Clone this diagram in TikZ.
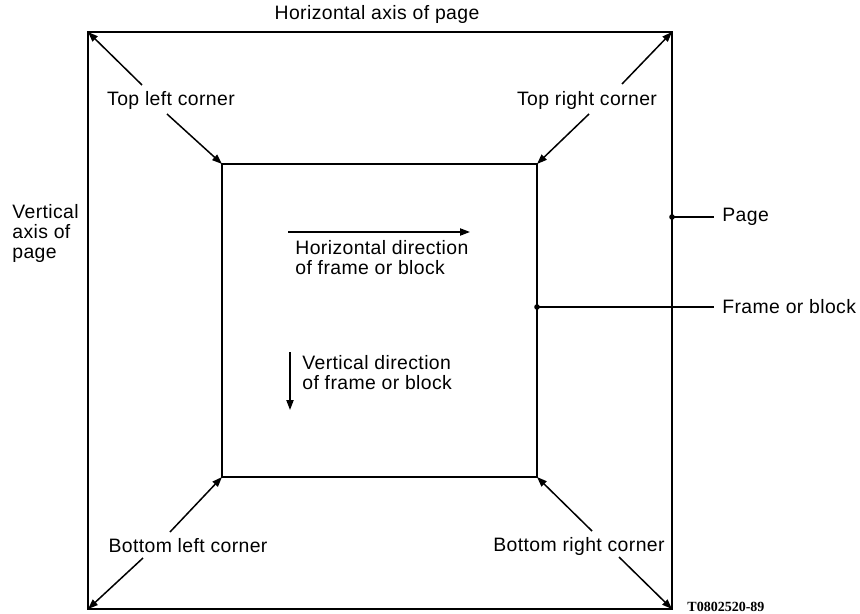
\documentclass[tikz,border=0pt]{standalone}
\usepackage{fontspec}
\setmainfont{Liberation Sans}[LetterSpace=2]
\newfontfamily\codefont{Liberation Serif}
\usetikzlibrary{arrows,arrows.meta,calc,positioning}

\begin{document}
\begin{tikzpicture}[
    x=0.5pt, y=-0.5pt,
    nosep/.style={inner sep=0},
    lbl/.style={nosep, font=\fontsize{9.7}{10}\selectfont},
    sidelbl/.style={lbl, anchor=west, inner xsep=4pt},
    multilbl/.style={lbl, align=left, anchor=west},
    frameline/.style={line width=0.8pt},
    pointer/.style={line width=0.75pt, -{Triangle[length=5pt, width=3.6pt]}},
    pin/.style={circle, fill=black, inner sep=0, minimum size=2.8pt},
    pinline/.style={line width=0.75pt}]

\useasboundingbox (0,0) rectangle (860,614);

\coordinate (page-nw) at (88,32);
\coordinate (page-ne) at (672,32);
\coordinate (page-sw) at (88,609);
\coordinate (page-se) at (672,609);
\coordinate (frame-nw) at (222,164);
\coordinate (frame-ne) at (537,164);
\coordinate (frame-sw) at (222,477);
\coordinate (frame-se) at (537,477);

\path[draw, frameline] (page-nw) rectangle (page-se);
\path[draw, frameline] (frame-nw) rectangle (frame-se);

\node[lbl] (haxis) at (377,14) {Horizontal axis of page};
\node[multilbl] (vaxis) at (12,233) {Vertical\\axis of\\page};

\node[lbl] (tl) at (171,100) {Top left corner};
\node[lbl] (tr) at (587,100) {Top right corner};
\node[lbl] (bl) at (188,546) {Bottom left corner};
\node[lbl] (br) at (579,546) {Bottom right corner};

\coordinate (tl-out) at (142,85);
\coordinate (tl-in) at (167,114);
\coordinate (tr-out) at (622,84);
\coordinate (tr-in) at (589,114);
\coordinate (bl-in) at (170,532);
\coordinate (bl-out) at (143,558);
\coordinate (br-in) at (592,531);
\coordinate (br-out) at (619,557);

\path[draw, pointer] (tl-out) -- (page-nw);
\path[draw, pointer] (tl-in) -- (frame-nw);
\path[draw, pointer] (tr-out) -- (page-ne);
\path[draw, pointer] (tr-in) -- (frame-ne);
\path[draw, pointer] (bl-in) -- (frame-sw);
\path[draw, pointer] (bl-out) -- (page-sw);
\path[draw, pointer] (br-in) -- (frame-se);
\path[draw, pointer] (br-out) -- (page-se);

\node[pin] (pagepin) at (672,217) {};
\node[pin] (framepin) at (537,307) {};
\node[sidelbl] (pagelbl) at (714,217) {Page};
\node[sidelbl] (framelbl) at (714,307) {Frame or block};
\path[draw, pinline] (pagepin.center) -- (pagelbl.west);
\path[draw, pinline] (framepin.center) -- (framelbl.west);

\coordinate (hdir-a) at (288,232);
\coordinate (hdir-b) at (470,232);
\coordinate (vdir-a) at (290,352);
\coordinate (vdir-b) at (290,410);
\path[draw, pointer] (hdir-a) -- (hdir-b);
\path[draw, pointer] (vdir-a) -- (vdir-b);
\node[multilbl] (hdir) at (295,258) {Horizontal direction\\of frame or block};
\node[multilbl] (vdir) at (302,373) {Vertical direction\\of frame or block};

\node[nosep, anchor=west, font=\codefont\bfseries\fontsize{7}{8}\selectfont] (code) at (687,607) {T0802520-89};

\end{tikzpicture}
\end{document}
